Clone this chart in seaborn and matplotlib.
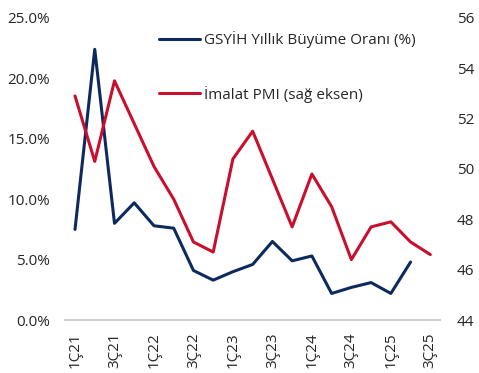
import matplotlib
matplotlib.use("Agg")
import matplotlib.pyplot as plt
import seaborn as sns
import pandas as pd
import numpy as np

quarters = ["1Ç21","2Ç21","3Ç21","4Ç21","1Ç22","2Ç22","3Ç22","4Ç22",
            "1Ç23","2Ç23","3Ç23","4Ç23","1Ç24","2Ç24","3Ç24","4Ç24",
            "1Ç25","2Ç25","3Ç25"]
gdp = [7.5, 22.4, 8.0, 9.7, 7.8, 7.6, 4.1, 3.3, 4.0, 4.6, 6.5, 4.9, 5.3,
       2.2, 2.7, 3.1, 2.2, 4.8]
pmi = [52.9, 50.3, 53.5, 51.8, 50.1, 48.8, 47.1, 46.7, 50.4, 51.5, 49.6,
       47.7, 49.8, 48.5, 46.4, 47.7, 47.9, 47.1, 46.6]
gdp_label = "GSYİH Yıllık Büyüme Oranı (%)"
pmi_label = "İmalat PMI (sağ eksen)"

BLUE = "#0D2A5E"
RED = "#C8102E"

sns.set_theme(style="white")
plt.rcParams['font.family'] = ['Open Sans', 'DejaVu Sans']

df_gdp = pd.DataFrame({"i": np.arange(len(gdp)), "v": gdp})
df_pmi = pd.DataFrame({"i": np.arange(len(pmi)), "v": pmi})

fig = plt.figure(figsize=(4.79, 3.73), dpi=100)
ax = fig.add_axes([0.136, 0.142, 0.783, 0.810])
ax2 = ax.twinx()

sns.lineplot(data=df_gdp, x="i", y="v", ax=ax, color=BLUE, linewidth=2.2, label=gdp_label, legend=False)
sns.lineplot(data=df_pmi, x="i", y="v", ax=ax2, color=RED, linewidth=2.2, label=pmi_label, legend=False)

ax.set_xlim(-0.5, 18.5)
ax.set_ylim(0, 25)
ax2.set_ylim(44, 56)
ax.set_yticks([0, 5, 10, 15, 20, 25])
ax.set_yticklabels([f"{v:.1f}%" for v in [0, 5, 10, 15, 20, 25]])
ax2.set_yticks([44, 46, 48, 50, 52, 54, 56])
ax.set_xticks(range(0, 19, 2))
ax.set_xticklabels([quarters[k] for k in range(0, 19, 2)], rotation=90, va="top")

for a in (ax, ax2):
    for s in a.spines.values():
        s.set_visible(False)
    a.set_xlabel("")
    a.set_ylabel("")
    a.grid(False)
ax.spines["bottom"].set_visible(True)
ax.spines["bottom"].set_color("#D0D0D0")
ax.spines["bottom"].set_linewidth(1.5)

FS = 11
ax.tick_params(axis="y", length=0, pad=11, labelsize=FS, labelcolor="#262626")
ax.tick_params(axis="x", length=0, pad=9, labelsize=FS, labelcolor="#262626")
ax2.tick_params(axis="y", length=0, pad=12, labelsize=FS, labelcolor="#262626")

h1, l1 = ax.get_legend_handles_labels()
h2, l2 = ax2.get_legend_handles_labels()
fig.legend(h1 + h2, l1 + l2, loc="upper left", bbox_to_anchor=(0.303, 0.953),
           frameon=False, fontsize=FS, handlelength=2.7, handletextpad=0.25,
           labelspacing=2.45, labelcolor="#262626")

fig.savefig("out.png", dpi=100)
